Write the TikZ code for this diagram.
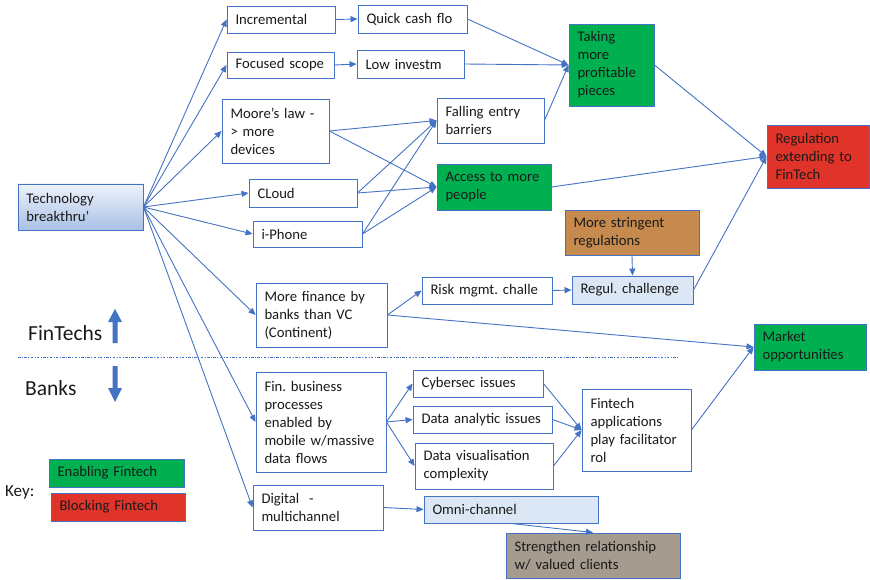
\documentclass[tikz,border=0pt]{standalone}
\usepackage{fontspec}
\setmainfont{Carlito}
\usetikzlibrary{arrows.meta}
\definecolor{bdr}{HTML}{4472C4}
\definecolor{grn}{HTML}{00B050}
\definecolor{rd}{HTML}{E0342A}
\definecolor{lblue}{HTML}{DCE7F5}
\definecolor{techtop}{HTML}{EEF2FA}
\definecolor{techbot}{HTML}{A9C0E6}
\definecolor{wood}{HTML}{C68A4F}
\definecolor{granite}{HTML}{A59B8F}
\definecolor{txt}{HTML}{1A1A1A}
\newcommand\bx[7]{%
  \pgfmathsetmacro\bxw{#4-#2}%
  \pgfmathsetmacro\bxh{#5-#3}%
  \pgfmathsetmacro\bxt{#4-#2-17}%
  \pgfmathsetmacro\bxx{(#2+#4)/2}%
  \pgfmathsetmacro\bxy{(#3+#5)/2}%
  \node[box,#6,minimum width=\bxw pt,minimum height=\bxh pt,text width=\bxt pt] (#1) at (\bxx,\bxy) {#7};}
\begin{document}
\begin{tikzpicture}[x=1pt,y=-1pt,
  box/.style={draw=bdr,line width=0.9pt,fill=white,inner xsep=8.5pt,inner ysep=1pt,align=left,text=txt,
    font=\fontsize{14.7}{18}\selectfont\frenchspacing},
  green box/.style={fill=grn},
  red box/.style={fill=rd},
  light box/.style={fill=lblue},
  wood box/.style={fill=wood},
  granite box/.style={fill=granite},
  tech box/.style={top color=techtop,bottom color=techbot},
  conn/.style={draw=bdr,line width=0.9pt,-{Triangle[length=7pt,width=6pt]}},
  bigarrow/.style={fill=bdr},
  side label/.style={anchor=west,text=txt,inner sep=0pt,font=\fontsize{21.5}{24}\selectfont},
  key label/.style={anchor=west,text=txt,inner sep=0pt,font=\fontsize{17}{20}\selectfont}]
\useasboundingbox (0,0) rectangle (870,580);

% boxes
\bx{tech}{18}{184}{143}{230}{tech box}{Technology\\breakthru’}
\bx{inc}{227}{6}{335}{33}{}{Incremental}
\bx{quick}{358}{5}{467}{33}{}{Quick cash flo}
\bx{focus}{227}{52}{334}{78}{}{Focused scope}
\bx{low}{357}{50}{464}{78}{}{Low investm}
\bx{moore}{222}{99}{329}{163}{}{Moore’s law -\\> more\\devices}
\bx{fall}{437}{98}{544}{143}{}{Falling entry\\barriers}
\bx{take}{569}{24}{654}{106}{green box}{Taking\\more\\profitable\\pieces}
\bx{regext}{767}{125}{869}{188}{red box}{Regulation\\extending to\\FinTech}
\bx{cloud}{249}{179}{357}{207}{}{CLoud}
\bx{access}{437}{164}{551}{210}{green box}{Access to more\\people}
\bx{iphone}{253}{221}{362}{247}{}{i-Phone}
\bx{string}{565}{210}{699}{255}{wood box}{More stringent\\regulations}
\bx{regch}{572}{276}{693}{304}{light box}{Regul. challenge}
\bx{risk}{422}{277}{552}{304}{}{Risk mgmt. challe}
\bx{fin}{256}{283}{387}{347}{}{More finance by\\banks than VC\\(Continent)}
\bx{market}{754}{324}{866}{370}{green box}{Market\\opportunities}
\bx{proc}{256}{372}{386}{472}{}{Fin. business\\processes\\enabled by\\mobile w/massive\\data flows}
\bx{cyber}{413}{370}{543}{397}{}{Cybersec issues}
\bx{analytic}{413}{406}{552}{433}{}{Data analytic issues}
\bx{vis}{415}{443}{553}{489}{}{Data visualisation\\complexity}
\bx{facil}{582}{389}{691}{471}{}{Fintech\\applications\\play facilitator\\rol}
\bx{digital}{253}{485}{383}{530}{}{Digital\ \ -\\multichannel}
\bx{omni}{424}{496}{598}{523}{light box}{Omni-channel}
\bx{strength}{506}{533}{680}{578}{granite box}{Strengthen relationship\\w/ valued clients}
\bx{keyen}{49}{459}{184}{487}{green box}{Enabling Fintech}
\bx{keybl}{51}{493}{185}{521}{red box}{Blocking Fintech}

% labels
\node[side label] (fintechs) at (28,333) {FinTechs};
\node[side label] (banks) at (25,388) {Banks};
\node[key label] (key) at (5,492) {Key:};

% separator
\coordinate (sepA) at (18,357);
\coordinate (sepB) at (678,357);
\draw[bdr,line width=0.7pt,dash pattern=on 2.5pt off 1.5pt on 0.8pt off 1.5pt] (sepA) -- (sepB);

% block arrows
\fill[bigarrow] (112.5,343) -- (117.5,343) -- (117.5,322) -- (122,322) -- (115,309) -- (108,322) -- (112.5,322) -- cycle;
\fill[bigarrow] (112.5,366) -- (117.5,366) -- (117.5,388) -- (122,388) -- (115,402) -- (108,388) -- (112.5,388) -- cycle;

% connectors from technology
\foreach \t in {inc,focus,moore,cloud,iphone,fin,proc,digital}
  \draw[conn] (tech.east) -- (\t.west);

\draw[conn] (inc.east) -- (quick.west);
\draw[conn] (focus.east) -- (low.west);
\draw[conn] (quick.east) -- (take.west);
\draw[conn] (low.east) -- (take.west);
\draw[conn] (fall.east) -- (take.west);

\foreach \s in {moore,cloud,iphone}{
  \draw[conn] (\s.east) -- (fall.west);
  \draw[conn] (\s.east) -- (access.west);
}

\draw[conn] (take.east) -- (regext.west);
\draw[conn] (access.east) -- (regext.west);
\draw[conn] (regch.east) -- (regext.west);
\draw[conn] (string.south) -- (regch.north);
\draw[conn] (risk.east) -- (regch.west);
\draw[conn] (fin.east) -- (risk.west);
\draw[conn] (fin.east) -- (market.west);
\draw[conn] (facil.east) -- (market.west);

\foreach \t in {cyber,analytic,vis}{
  \draw[conn] (proc.east) -- (\t.west);
  \draw[conn] (\t.east) -- (facil.west);
}

\draw[conn] (digital.east) -- (omni.west);
\draw[conn] (omni.south) -- (strength.north);
\end{tikzpicture}
\end{document}
